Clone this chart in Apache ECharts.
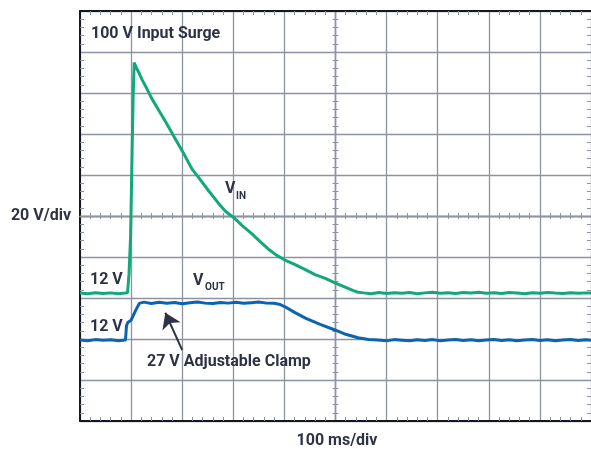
<!DOCTYPE html>
<html>
<head>
<meta charset="utf-8">
<script src="https://cdn.jsdelivr.net/npm/echarts@6/dist/echarts.min.js"></script>
<style>
  html, body { margin: 0; padding: 0; background: #fff; }
  #chart { width: 591px; height: 449px; }
</style>
</head>
<body>
<div id="chart"></div>
<script>
// time in ms (100 ms/div), vertical in scope units (20 per div, 0 = centre line)
const vinTime = [0, 15, 30, 45, 60, 75, 88, 93, 96, 99, 102, 104, 106, 110, 116, 122, 130, 140, 155, 172, 188, 204, 219, 236, 252, 270, 285, 301, 318, 336, 352, 369, 385, 402, 420, 441, 460, 480, 499, 520, 535, 544, 555, 570, 585, 600, 615, 630, 645, 660, 675, 690, 705, 720, 735, 750, 765, 780, 795, 810, 825, 840, 855, 870, 885, 900, 915, 930, 945, 960, 975, 990, 1000];
const vinLevel = [-37.6, -37.9, -37.4, -37.8, -37.5, -37.9, -37.6, -37.4, -28, -10, 32, 58, 74.8, 72.5, 69.5, 66.3, 62.5, 57.5, 51.2, 44, 37, 30, 23, 17.5, 12.2, 6.5, 2.2, -0.8, -4.8, -8.6, -12.4, -16.2, -19.2, -21.6, -23.6, -26.2, -28.6, -30.4, -32.6, -34.8, -36.4, -37.2, -37.5, -37.9, -37.3, -37.8, -37.4, -37.7, -37.3, -37.9, -37.5, -37.2, -37.7, -37.4, -37.8, -37.3, -37.6, -37.2, -37.7, -37.4, -37.8, -37.3, -37.6, -37.9, -37.4, -37.7, -37.3, -37.6, -37.8, -37.4, -37.7, -37.5, -37.6];

const voutTime = [0, 15, 30, 45, 60, 75, 89, 91, 94, 100, 108, 116, 125, 140, 155, 170, 185, 200, 215, 230, 245, 260, 275, 290, 305, 320, 335, 350, 365, 380, 392, 402, 420, 441, 470, 499, 520, 544, 565, 583, 600, 615, 630, 645, 660, 675, 690, 705, 720, 735, 750, 765, 780, 795, 810, 825, 840, 855, 870, 885, 900, 915, 930, 945, 960, 975, 990, 1000];
const voutLevel = [-60.5, -60.8, -60.3, -60.6, -60.4, -60.9, -60.5, -53.5, -51.8, -50.8, -46.5, -42.6, -42.0, -42.7, -42.1, -42.6, -42.2, -42.8, -42.3, -42.0, -42.5, -42.7, -42.2, -42.5, -42.1, -42.6, -42.3, -42.0, -42.5, -42.6, -43.2, -44.4, -47.0, -49.8, -52.9, -55.6, -57.7, -59.4, -60.2, -60.5, -60.8, -60.3, -60.6, -60.9, -60.4, -60.7, -60.3, -60.8, -60.5, -60.2, -60.7, -60.4, -60.9, -60.5, -60.3, -60.7, -60.4, -60.8, -60.5, -60.3, -60.7, -60.4, -60.8, -60.5, -60.3, -60.7, -60.4, -60.6];

// annotation arrow: tail, head (ms, units)
const arrowTail = [200, -65.4];
const arrowHead = [167, -47.2];

const TEXT = '#2e3245';
const GRID_C = '#8e93a3';
const FONT = 'Roboto';

const chart = echarts.init(document.getElementById('chart'), null, { renderer: 'canvas' });

const rect = { left: 80, top: 11, width: 514, height: 410 };

// 网格轴（示波器刻度）
function borderX(pos, split) {
    return {
        type: 'value', gridIndex: 0, position: pos, min: 0, max: 1000, interval: 100,
        axisLine: { onZero: false, lineStyle: { color: '#15171f', width: 2 } },
        axisTick: { show: false, inside: true },
        minorTick: { show: true, splitNumber: 5, length: 4, lineStyle: { color: GRID_C, width: 1 } },
        axisLabel: { show: false },
        splitLine: { show: split, lineStyle: { color: GRID_C, width: 1.3 } }
    };
}
function borderY(pos, split, line) {
    return {
        type: 'value', gridIndex: 0, position: pos, min: -100, max: 100, interval: 20,
        axisLine: { show: line, onZero: false, lineStyle: { color: '#15171f', width: 2 } },
        axisTick: { show: false, inside: true },
        minorTick: { show: true, splitNumber: 5, length: 4, lineStyle: { color: GRID_C, width: 1 } },
        axisLabel: { show: false },
        splitLine: { show: split, lineStyle: { color: GRID_C, width: 1.3 } }
    };
}
function centreX(grid, inside) {
    return {
        type: 'value', gridIndex: grid, min: -500, max: 500, interval: 100,
        axisLine: { onZero: true, lineStyle: { color: GRID_C, width: 1.3 } },
        axisTick: { show: false, inside: inside },
        minorTick: { show: true, splitNumber: 5, length: 3, lineStyle: { color: GRID_C, width: 1 } },
        axisLabel: { show: false }, splitLine: { show: false }
    };
}
function centreY(grid, inside) {
    return {
        type: 'value', gridIndex: grid, min: -100, max: 100, interval: 20,
        axisLine: { onZero: true, lineStyle: { color: GRID_C, width: 1.3 } },
        axisTick: { show: false, inside: inside },
        minorTick: { show: true, splitNumber: 5, length: 3, lineStyle: { color: GRID_C, width: 1 } },
        axisLabel: { show: false }, splitLine: { show: false }
    };
}

function label(text, x, y, align, size) {
    return {
        type: 'text', x: x, y: y, z: 10,
        style: {
            text: text, fill: TEXT, font: `bold ${size || 16}px ${FONT}`,
            align: align || 'left', verticalAlign: 'middle'
        }
    };
}

const option = {
    animation: false,
    backgroundColor: '#fff',
    grid: [Object.assign({}, rect), Object.assign({}, rect), Object.assign({}, rect)],
    xAxis: [borderX('bottom', true), borderX('top', false), centreX(1, true), centreX(2, false)],
    yAxis: [borderY('left', true, true), borderY('right', false, false), centreY(1, true), centreY(2, false)],
    graphic: [
        label('100 V Input Surge', 91, 34),
        label('20 V/div', 71, 216, 'right'),
        label('12 V', 90, 280),
        label('12 V', 90, 327),
        label('V', 225, 189, 'left', 16),
        label('IN', 236, 196, 'left', 10),
        label('V', 193, 281, 'left', 16),
        label('OUT', 205, 287, 'left', 10),
        label('27 V Adjustable Clamp', 147, 362),
        label('100 ms/div', 337, 441, 'center')
    ],
    series: [
        {
            name: 'VIN', type: 'line', xAxisIndex: 0, yAxisIndex: 0,
            data: vinTime.map((t, i) => [t, vinLevel[i]]),
            showSymbol: false, z: 3,
            lineStyle: { color: '#13a87c', width: 3 }
        },
        {
            name: 'VOUT', type: 'line', xAxisIndex: 0, yAxisIndex: 0,
            data: voutTime.map((t, i) => [t, voutLevel[i]]),
            showSymbol: false, z: 4,
            lineStyle: { color: '#0c63b1', width: 3 },
            markLine: {
                silent: true,
                symbol: ['none', 'arrow'],
                symbolSize: 15,
                label: { show: false },
                itemStyle: { color: TEXT },
                lineStyle: { color: TEXT, width: 2, type: 'solid' },
                data: [[{ coord: arrowTail }, { coord: arrowHead }]]
            }
        }
    ]
};

chart.setOption(option);
</script>
</body>
</html>
